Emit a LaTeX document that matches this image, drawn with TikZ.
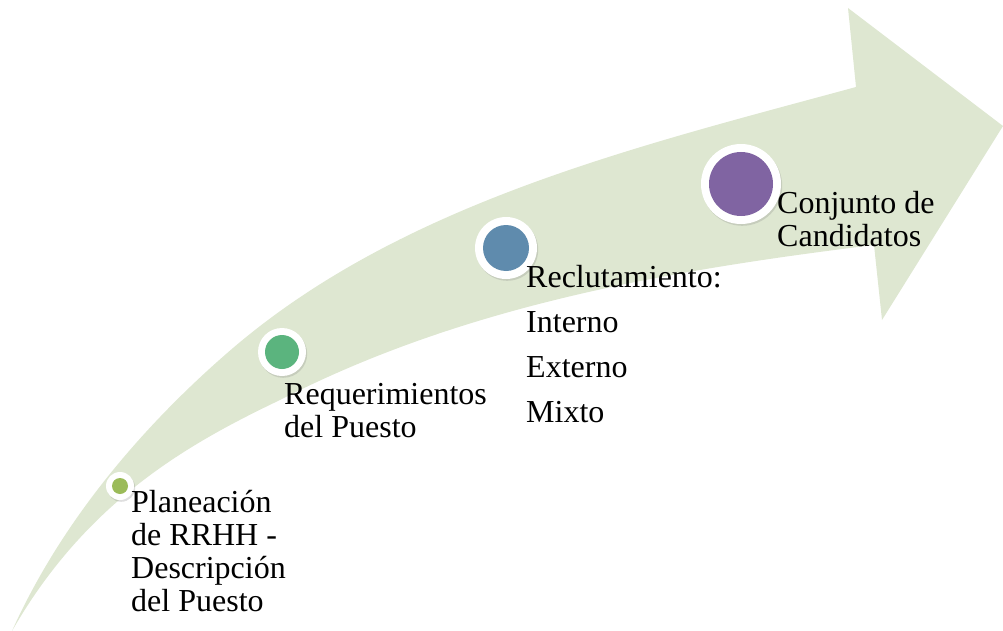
\documentclass[tikz,border=0pt]{standalone}
\usepackage{fontspec}
\setmainfont{Liberation Serif}
\usetikzlibrary{shadows}
\definecolor{band}{RGB}{222,231,209}
\definecolor{cone}{RGB}{155,187,89}
\definecolor{ctwo}{RGB}{91,180,126}
\definecolor{cthree}{RGB}{95,139,173}
\definecolor{cfour}{RGB}{128,100,162}
\begin{document}
\begin{tikzpicture}[x=1pt,y=-1pt,
  ring/.style={circle,fill=white,inner sep=0pt,
    drop shadow={opacity=0.25,shadow xshift=1.2pt,shadow yshift=-1.8pt}},
  dot/.style={circle,inner sep=0pt},
  lbl/.style={anchor=base west,inner sep=0pt,font=\fontsize{32}{33.3}\selectfont}]
\useasboundingbox (0,0) rectangle (1003,631);
% curved arrow
\fill[band] (12,631) .. controls (61,522) and (142,426) .. (233,348)
  .. controls (404,202) and (639,146) .. (856,87)
  -- (848,8) -- (1003,126) -- (882,320) -- (874,245)
  .. controls (671,270) and (465,305) .. (280,400)
  .. controls (190,443) and (87,500) .. (12,631) -- cycle;
% markers
\node[ring,minimum size=28pt] (r1) at (120,486) {};
\node[dot,fill=cone,minimum size=16pt] (d1) at (r1) {};
\node[ring,minimum size=48pt] (r2) at (282,352) {};
\node[dot,fill=ctwo,minimum size=34pt] (d2) at (r2) {};
\node[ring,minimum size=62pt] (r3) at (506,248) {};
\node[dot,fill=cthree,minimum size=46pt] (d3) at (r3) {};
\node[ring,minimum size=80pt] (r4) at (741,184) {};
\node[dot,fill=cfour,minimum size=64pt] (d4) at (r4) {};
% labels
\node[lbl] (t1) at (131,512) {\begin{tabular}[t]{@{}l@{}}Planeación\\de RRHH -\\Descripción\\del Puesto\end{tabular}};
\node[lbl] (t2) at (284,404) {\begin{tabular}[t]{@{}l@{}}Requerimientos\\del Puesto\end{tabular}};
\node[lbl] (t3) at (526,287) {\begin{tabular}[t]{@{}l@{}}Reclutamiento:\\[11.7pt]Interno\\[11.7pt]Externo\\[11.7pt]Mixto\end{tabular}};
\node[lbl] (t4) at (777,213) {\begin{tabular}[t]{@{}l@{}}Conjunto de\\Candidatos\end{tabular}};
\end{tikzpicture}
\end{document}
